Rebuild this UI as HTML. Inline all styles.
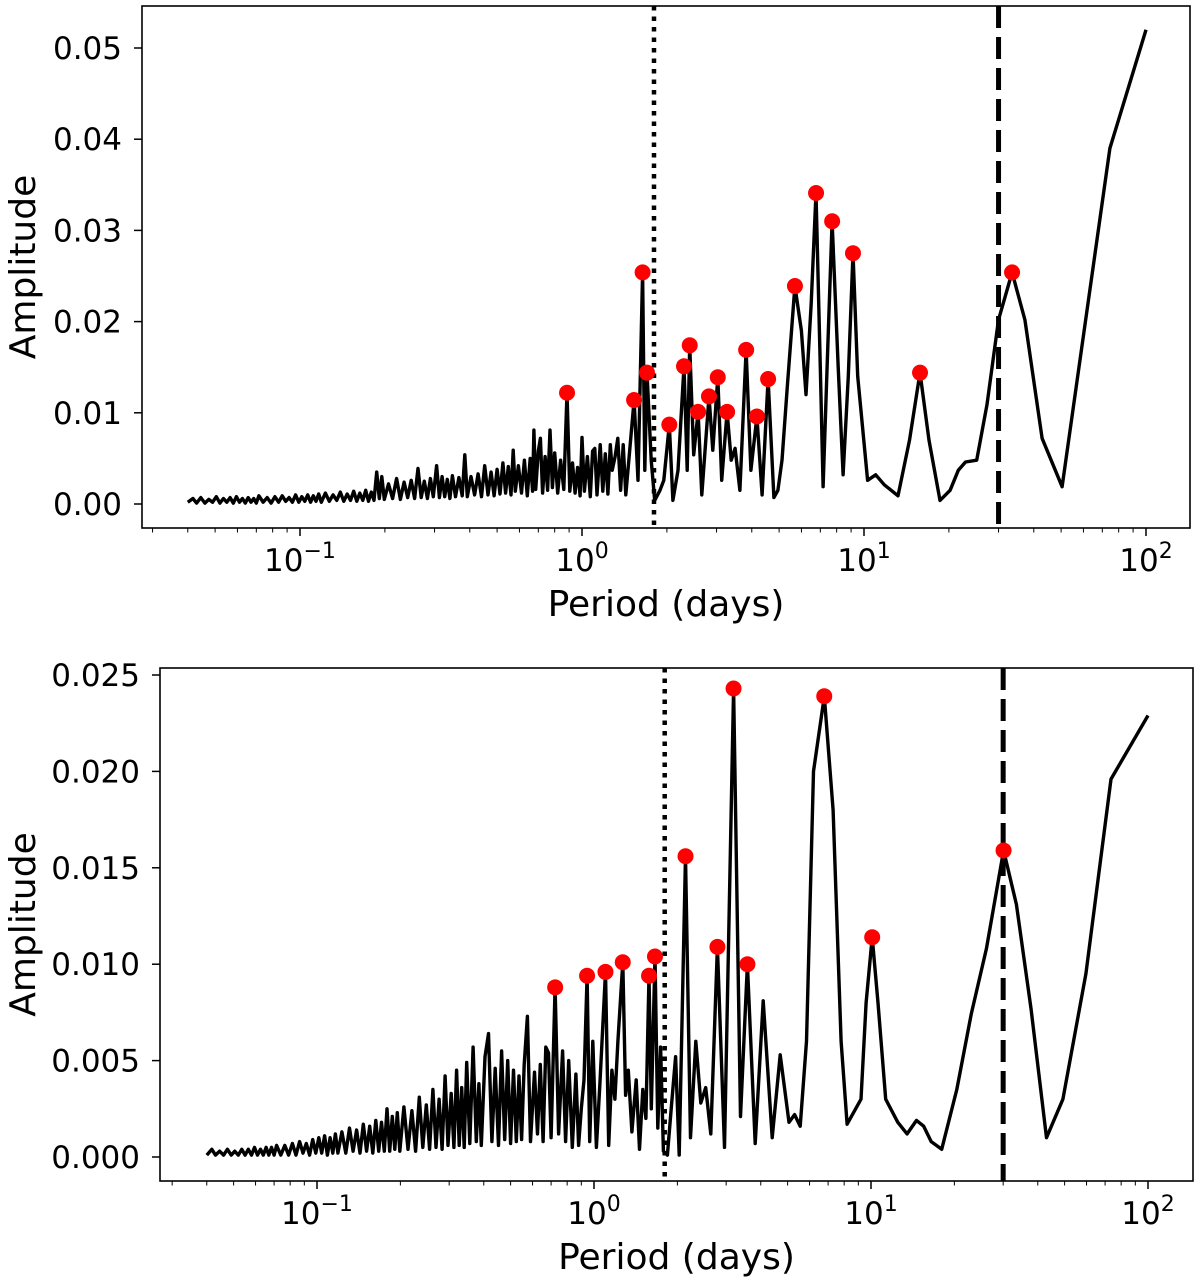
<!DOCTYPE html>
<html><head><meta charset="utf-8"><style>
html,body{margin:0;padding:0;background:#fff;}
svg{display:block;font-family:"DejaVu Sans","Liberation Sans",sans-serif;}
</style></head><body>
<svg id="fig" width="1200" height="1280" viewBox="0 0 1200 1280" xmlns="http://www.w3.org/2000/svg"></svg>
<script>
const topCurve = [[0.04,0.0002],[0.0417,0.0006],[0.043,0.0001],[0.0445,0.0007],[0.046,0.0001],[0.0475,0.0005],[0.049,0.0002],[0.0505,0.0008],[0.052,0.0001],[0.0535,0.0006],[0.055,0.0002],[0.0565,0.0007],[0.058,0.0001],[0.0595,0.0008],[0.061,0.0002],[0.0625,0.0006],[0.064,0.0001],[0.0655,0.0007],[0.067,0.0002],[0.0685,0.0006],[0.07,0.0001],
[0.0715,0.0009],[0.074,0.0002],[0.0765,0.0007],[0.079,0.0001],[0.0815,0.0008],[0.084,0.0002],[0.0865,0.0009],[0.089,0.0003],[0.0915,0.0007],[0.094,0.0002],[0.0965,0.001],[0.099,0.0002],[0.1015,0.0008],[0.104,0.0003],[0.1065,0.001],[0.109,0.0002],[0.1115,0.0009],[0.114,0.0003],[0.1165,0.0011],[0.119,0.0002],
[0.123,0.0012],[0.127,0.0003],[0.131,0.001],[0.135,0.0004],[0.139,0.0013],[0.143,0.0003],[0.147,0.0011],[0.151,0.0004],[0.155,0.0014],[0.159,0.0003],[0.163,0.0012],[0.167,0.0004],[0.171,0.0015],[0.175,0.0003],[0.179,0.0013],[0.183,0.0004],[0.187,0.0035],[0.191,0.0006],[0.195,0.003],[0.199,0.0005],
[0.206,0.0022],[0.213,0.0006],[0.22,0.0028],[0.227,0.0005],[0.234,0.0024],[0.241,0.0007],[0.248,0.0026],[0.255,0.0006],[0.262,0.0039],[0.269,0.0007],[0.276,0.0025],[0.283,0.0006],[0.29,0.0028],[0.297,0.0008],[0.305,0.0042],[0.312,0.0007],[0.319,0.003],[0.326,0.0008],[0.333,0.0027],[0.34,0.0006],[0.347,0.0031],
[0.356,0.0008],[0.366,0.0029],[0.376,0.0009],[0.384,0.0054],[0.392,0.0008],[0.404,0.003],[0.416,0.001],[0.428,0.0033],[0.44,0.0008],[0.452,0.0042],[0.464,0.001],[0.476,0.0035],[0.488,0.0009],[0.5,0.0038],[0.512,0.0011],[0.524,0.0045],[0.536,0.0012],[0.548,0.0041],[0.56,0.001],[0.57,0.0059],[0.58,0.0014],[0.595,0.0042],[0.61,0.0012],[0.625,0.0048],[0.64,0.0009],[0.655,0.005],[0.668,0.0014],[0.675,0.0081],[0.685,0.0016],[0.7,0.0058],[0.712,0.0072],[0.725,0.0012],[0.74,0.0052],[0.755,0.0015],[0.77,0.0081],[0.785,0.0018],[0.8,0.0056],[0.82,0.0012],[0.84,0.0048],[0.862,0.0016],[0.885,0.0122],[0.905,0.0014],[0.925,0.0045],[0.945,0.0012],[0.965,0.004],[0.985,0.0009],[1.0,0.0073],[1.02,0.0014],[1.045,0.0052],[1.07,0.0008],[1.09,0.0058],[1.11,0.0061],[1.13,0.001],[1.16,0.0065],[1.185,0.0014],[1.21,0.0055],[1.235,0.0011],[1.26,0.0065],[1.28,0.0037],[1.31,0.0052],[1.34,0.0072],[1.37,0.0015],[1.40,0.0065],[1.43,0.001],
[1.53,0.0114],[1.58,0.0026],[1.64,0.0254],[1.67,0.0037],[1.70,0.0144],[1.76,0.0048],[1.81,0.0004],[1.89,0.0015],[1.95,0.0026],[2.04,0.0087],[2.10,0.0004],[2.19,0.0037],[2.30,0.0151],[2.36,0.0037],[2.41,0.0174],[2.49,0.0054],[2.58,0.0101],[2.66,0.001],[2.82,0.0118],[2.91,0.0059],[3.03,0.0139],[3.13,0.0026],[3.27,0.0101],[3.38,0.0048],[3.49,0.0061],[3.63,0.0015],[3.82,0.0169],[3.97,0.0037],[4.17,0.0096],[4.35,0.001],[4.57,0.0137],[4.79,0.0007],[4.95,0.0015],[5.12,0.0048],[5.35,0.013],[5.69,0.0239],[6.0,0.019],[6.23,0.012],[6.5,0.022],[6.76,0.0341],[7.0,0.015],[7.16,0.0019],[7.4,0.015],[7.71,0.031],[8.1,0.015],[8.43,0.0032],[8.8,0.014],[9.14,0.0275],[9.5,0.014],[10.3,0.0026],[11.0,0.0032],[11.8,0.0021],[13.2,0.0009],[14.5,0.007],[15.8,0.0144],[17.0,0.007],[18.6,0.0004],[20.2,0.0015],[21.6,0.0037],[22.9,0.0046],[25.1,0.0048],[27.3,0.0109],[30,0.0202],[33.5,0.0254],[37.2,0.0202],[42.8,0.0072],[50.4,0.0019],[74.5,0.039],[100,0.052]];
const topPeakP = [0.885,1.53,1.64,1.70,2.04,2.30,2.41,2.58,2.82,3.03,3.27,3.82,4.17,4.57,5.69,6.76,7.71,9.14,15.8,33.5];
const topPeakA = [0.0122,0.0114,0.0254,0.0144,0.0087,0.0151,0.0174,0.0101,0.0118,0.0139,0.0101,0.0169,0.0096,0.0137,0.0239,0.0341,0.031,0.0275,0.0144,0.0254];

const botCurve = [[0.04,0.0001],[0.0417,0.0004],[0.043,0.0001],[0.0445,0.0003],[0.046,0.0001],[0.0475,0.0004],[0.049,0.0001],[0.0505,0.0003],[0.052,0.0001],[0.0535,0.0004],[0.055,0.0001],[0.0565,0.0004],[0.058,0.0001],[0.0595,0.0005],[0.061,0.0001],[0.0625,0.0004],[0.064,0.0001],[0.0655,0.0005],[0.067,0.0001],[0.0685,0.0005],[0.07,0.0001],
[0.0715,0.0006],[0.074,0.0001],[0.0765,0.0006],[0.079,0.0001],[0.0815,0.0007],[0.084,0.0001],[0.0865,0.0008],[0.089,0.0002],[0.0915,0.0007],[0.094,0.0001],[0.0965,0.0009],[0.099,0.0002],[0.1015,0.001],[0.104,0.0002],[0.1065,0.0011],[0.109,0.0001],[0.1115,0.001],[0.114,0.0002],[0.1165,0.0012],[0.119,0.0002],
[0.123,0.0013],[0.127,0.0002],[0.131,0.0015],[0.135,0.0003],[0.139,0.0014],[0.143,0.0002],[0.147,0.0017],[0.151,0.0003],[0.155,0.0016],[0.159,0.0002],[0.163,0.0019],[0.167,0.0003],[0.171,0.0018],[0.175,0.0003],[0.179,0.0025],[0.183,0.0003],[0.187,0.0021],[0.191,0.0004],[0.195,0.0023],[0.199,0.0003],
[0.206,0.0026],[0.213,0.0004],[0.22,0.0024],[0.227,0.0003],[0.234,0.0031],[0.241,0.0005],[0.248,0.0027],[0.255,0.0004],[0.262,0.0035],[0.269,0.0005],[0.276,0.003],[0.283,0.0004],[0.29,0.0042],[0.297,0.0006],[0.305,0.0033],[0.312,0.0005],[0.319,0.0045],[0.326,0.0006],[0.333,0.0036],[0.34,0.0005],[0.347,0.0049],
[0.356,0.0007],[0.366,0.0057],[0.376,0.0008],[0.384,0.0038],[0.392,0.0006],[0.404,0.0052],[0.416,0.0064],[0.428,0.0008],[0.44,0.0046],[0.452,0.0006],[0.464,0.0055],[0.476,0.0009],[0.488,0.005],[0.5,0.0007],[0.512,0.0045],[0.524,0.0008],[0.536,0.0042],[0.548,0.0009],[0.56,0.0048],[0.575,0.0073],[0.59,0.0008],[0.61,0.0044],[0.625,0.0012],[0.64,0.0048],[0.655,0.0008],[0.67,0.0057],[0.685,0.0054],[0.7,0.001],[0.724,0.0088],[0.745,0.0012],[0.77,0.0055],[0.79,0.0008],[0.81,0.005],[0.835,0.0005],[0.86,0.0043],[0.88,0.0006],[0.9,0.0025],[0.92,0.004],[0.944,0.0094],[0.965,0.0008],[0.99,0.006],[1.02,0.0005],[1.05,0.0038],[1.1,0.0096],[1.13,0.0006],[1.16,0.0045],[1.19,0.003],[1.22,0.006],[1.27,0.0101],[1.3,0.0032],[1.33,0.0045],[1.37,0.0013],[1.42,0.004],[1.46,0.0004],[1.5,0.0035],[1.54,0.002],[1.58,0.0094],[1.61,0.0025],[1.66,0.0104],[1.7,0.0015],[1.74,0.0057],[1.78,0.0003],[1.84,0.0001],[1.9,0.0025],[1.97,0.0052],[2.03,0.0001],[2.14,0.0156],[2.23,0.001],[2.33,0.006],[2.43,0.0028],[2.53,0.0036],[2.64,0.0012],[2.79,0.0109],[2.96,0.0005],[3.19,0.0243],[3.38,0.0021],[3.58,0.01],[3.82,0.0007],[4.08,0.0081],[4.4,0.001],[4.7,0.0053],[5.06,0.0018],[5.3,0.0022],[5.55,0.0016],[5.85,0.006],[6.2,0.02],[6.78,0.0239],[7.3,0.018],[7.8,0.006],[8.2,0.0017],[9.2,0.003],[9.6,0.008],[10.1,0.0114],[10.6,0.008],[11.3,0.003],[12.5,0.0018],[13.5,0.0012],[14.6,0.0019],[15.5,0.0016],[16.5,0.0008],[18,0.0004],[20.4,0.0035],[23,0.0074],[26.1,0.0108],[30.1,0.0159],[33.5,0.0131],[37.8,0.0077],[43,0.001],[49.3,0.003],[59.7,0.0095],[73.5,0.0196],[100,0.0229]];
const botPeakP = [0.724,0.944,1.10,1.27,1.58,1.66,2.14,2.79,3.19,3.58,6.78,10.1,30.1];
const botPeakA = [0.0088,0.0094,0.0096,0.0101,0.0094,0.0104,0.0156,0.0109,0.0243,0.01,0.0239,0.0114,0.0159];

const topYTicks = [0,0.01,0.02,0.03,0.04,0.05];
const topYLabels = ["0.00","0.01","0.02","0.03","0.04","0.05"];
const botYTicks = [0,0.005,0.01,0.015,0.02,0.025];
const botYLabels = ["0.000","0.005","0.010","0.015","0.020","0.025"];
const xDecades = [-1,0,1,2];
const xDecadeLabels = ["\u22121","0","1","2"];
const dottedP = 1.8, dashedP = 30;

const NS = "http://www.w3.org/2000/svg";
const svg = document.getElementById('fig');
function mk(tag, attrs, parent){const e=document.createElementNS(NS,tag);for(const k in attrs)e.setAttribute(k,attrs[k]);(parent||svg).appendChild(e);return e;}

function panel(cfg){
  const g = mk('g',{});
  
  
  const X = p => cfg.x0 + cfg.dec*Math.log10(p);
  const Y = a => cfg.y0 - cfg.ys*a;
  const clip = mk('clipPath',{id:cfg.name+'-clip'},g);
  mk('rect',{x:cfg.L,y:cfg.T,width:cfg.R-cfg.L,height:cfg.B-cfg.T},clip);
  const d = cfg.curve.map((pt,i)=>(i?'L':'M')+X(pt[0]).toFixed(1)+' '+Y(pt[1]).toFixed(1)).join(' ');
  const line = mk('path',{d:d,fill:'none',stroke:'#000','stroke-width':3.4,'stroke-linejoin':'round','clip-path':'url(#'+cfg.name+'-clip)'},g);
  
  
  const vd = mk('line',{x1:X(dottedP),x2:X(dottedP),y1:cfg.T,y2:cfg.B,stroke:'#000','stroke-width':4.5,'stroke-dasharray':'4.5 6'},g);
  
  
  const vs = mk('line',{x1:X(dashedP),x2:X(dashedP),y1:cfg.T,y2:cfg.B,stroke:'#000','stroke-width':5,'stroke-dasharray':'22 9'},g);
  
  
  cfg.pp.forEach((p,i)=>{
    const c = mk('circle',{cx:X(p),cy:Y(cfg.pa[i]),r:8,fill:'#ff0000'},g);
    
    
  });
  const fr = mk('rect',{x:cfg.L,y:cfg.T,width:cfg.R-cfg.L,height:cfg.B-cfg.T,fill:'none',stroke:'#000','stroke-width':1.6},g);
  
  
  cfg.yt.forEach((v,i)=>{
    const y=Y(v);
    mk('line',{x1:cfg.L-8,x2:cfg.L,y1:y,y2:y,stroke:'#000','stroke-width':1.5},g);
    const t = mk('text',{x:cfg.L-20,y:y+11,'text-anchor':'end','font-size':31,fill:'#000'},g);
    t.textContent = cfg.yl[i];
    
    
  });
  for(let e=-2;e<=2;e++){
    for(let m=1;m<10;m++){
      const p=m*Math.pow(10,e); const x=X(p);
      if(x<cfg.L||x>cfg.R) continue;
      mk('line',{x1:x,x2:x,y1:cfg.B,y2:cfg.B+(m===1?8:4.5),stroke:'#000','stroke-width':m===1?1.5:1},g);
    }
  }
  xDecades.forEach((e,i)=>{
    const x=X(Math.pow(10,e));
    const t = mk('text',{x:x,y:cfg.B+43,'text-anchor':'middle','font-size':31,fill:'#000'},g);
    const b = mk('tspan',{},t); b.textContent='10';
    const s = mk('tspan',{dy:-13,'font-size':22},t); s.textContent=xDecadeLabels[i];
    
    
  });
  const xt = mk('text',{x:(cfg.L+cfg.R)/2,y:cfg.B+88,'text-anchor':'middle','font-size':36,fill:'#000'},g);
  xt.textContent='Period (days)';
  
  
  const cy=(cfg.T+cfg.B)/2;
  const yt = mk('text',{x:0,y:0,transform:'translate(35,'+cy+') rotate(-90)','text-anchor':'middle','font-size':36,fill:'#000'},g);
  yt.textContent='Amplitude';
  
  
}
panel({name:'top-panel',L:142,R:1190,T:6,B:528,x0:582,dec:282,y0:504,ys:9120,curve:topCurve,pp:topPeakP,pa:topPeakA,yt:topYTicks,yl:topYLabels});
panel({name:'bottom-panel',L:160,R:1193,T:668,B:1181,x0:594,dec:277,y0:1157,ys:19280,curve:botCurve,pp:botPeakP,pa:botPeakA,yt:botYTicks,yl:botYLabels});
</script>
</body></html>
